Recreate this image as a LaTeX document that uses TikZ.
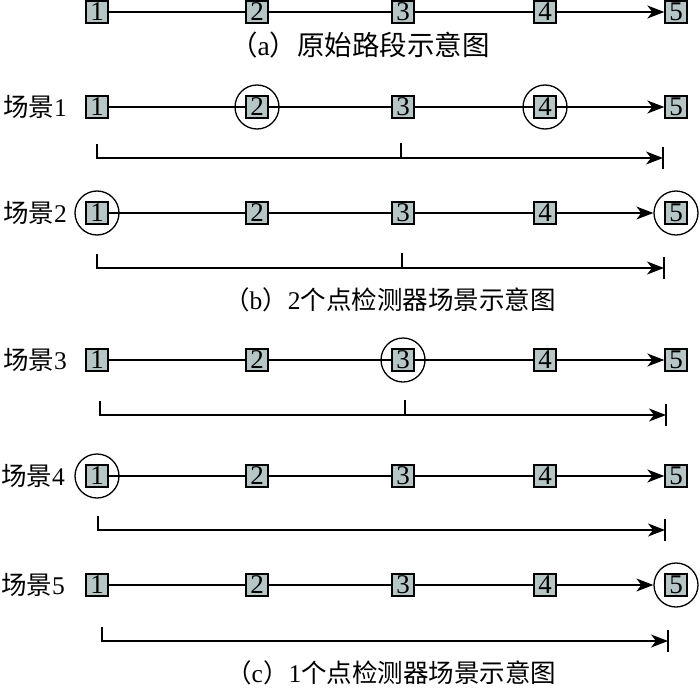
\documentclass[tikz,border=0pt]{standalone}
\usepackage{fontspec}
\setmainfont{Liberation Serif}
\newfontfamily\cjk{Noto Sans CJK SC}
\usetikzlibrary{arrows.meta}
\definecolor{boxfill}{HTML}{B6C6C6}
\tikzset{
  bx/.style={draw=black, line width=1.4pt, fill=boxfill, minimum size=22pt, inner sep=0pt,
    font=\fontsize{27}{27}\selectfont},
  ring/.style={draw=black, line width=1.3pt, circle, minimum size=44pt, inner sep=0pt},
  ln/.style={line width=1.3pt},
  arrowtip/.style={-{Stealth[length=17pt,width=13pt,inset=5pt]}},
  lbl/.style={font=\fontsize{25.5}{30}\selectfont, inner sep=0pt},
  captxt/.style={font=\fontsize{25.5}{30}\selectfont, inner sep=0pt, anchor=west},
}
\newcommand\roadrow[2]{%
  \node[bx] (#1a) at (97,-#2) {1};
  \node[bx] (#1b) at (257,-#2) {2};
  \node[bx] (#1c) at (403,-#2) {3};
  \node[bx] (#1d) at (545,-#2) {4};
  \node[bx] (#1e) at (676,-#2) {5};
}
\begin{document}
\begin{tikzpicture}[x=1pt,y=1pt]
\useasboundingbox (0,0) rectangle (700,-690);

% (a)
\roadrow{a}{12}
\draw[ln] (aa) -- (ab) -- (ac) -- (ad);
\draw[ln,arrowtip] (ad) -- (ae);
\node[captxt, font=\fontsize{27.5}{30}\selectfont] (capa) at (230,-45) {{\cjk （}a{\cjk ）原始路段示意图}};

% scene 1
\node[lbl, anchor=east] (l1) at (67,-107) {{\cjk 场景}1};
\roadrow{p}{107}
\node[ring] (pbr) at (pb) {};
\node[ring] (pdr) at (pd) {};
\draw[ln] (pa) -- (pb) -- (pc) -- (pd);
\draw[ln,arrowtip] (pd) -- (pe);
\coordinate (p1t) at (97,-144);
\coordinate (p1b) at (97,-158);
\coordinate (p1m) at (401,-158);
\coordinate (p1mt) at (401,-143);
\coordinate (p1r) at (663,-158);
\coordinate (p1rt) at (663,-147);
\coordinate (p1rb) at (663,-169);
\draw[ln,arrowtip] (p1t) -- (p1b) -- (p1r);
\draw[ln] (p1m) -- (p1mt);
\draw[ln] (p1rt) -- (p1rb);

% scene 2
\node[lbl, anchor=east] (l2) at (67,-213) {{\cjk 场景}2};
\roadrow{q}{213}
\node[ring] (qar) at (qa) {};
\node[ring] (qer) at (qe) {};
\draw[ln] (qa) -- (qb) -- (qc) -- (qd);
\draw[ln,arrowtip] (qd) -- (qer);
\coordinate (q1t) at (97,-254);
\coordinate (q1b) at (97,-268);
\coordinate (q1m) at (402,-268);
\coordinate (q1mt) at (402,-253);
\coordinate (q1r) at (664,-268);
\coordinate (q1rt) at (664,-257);
\coordinate (q1rb) at (664,-279);
\draw[ln,arrowtip] (q1t) -- (q1b) -- (q1r);
\draw[ln] (q1m) -- (q1mt);
\draw[ln] (q1rt) -- (q1rb);
\node[captxt] (capb) at (224,-300) {{\cjk （}b{\cjk ）}2{\cjk 个点检测器场景示意图}};

% scene 3
\node[lbl, anchor=east] (l3) at (67,-360) {{\cjk 场景}3};
\roadrow{r}{360}
\node[ring] (rcr) at (rc) {};
\draw[ln] (ra) -- (rb) -- (rc) -- (rd);
\draw[ln,arrowtip] (rd) -- (re);
\coordinate (r1t) at (100,-401);
\coordinate (r1b) at (100,-415);
\coordinate (r1m) at (405,-415);
\coordinate (r1mt) at (405,-400);
\coordinate (r1r) at (666,-415);
\coordinate (r1rt) at (666,-404);
\coordinate (r1rb) at (666,-426);
\draw[ln,arrowtip] (r1t) -- (r1b) -- (r1r);
\draw[ln] (r1m) -- (r1mt);
\draw[ln] (r1rt) -- (r1rb);

% scene 4
\node[lbl, anchor=east] (l4) at (65,-476) {{\cjk 场景}4};
\roadrow{s}{476}
\node[ring] (sar) at (sa) {};
\draw[ln] (sa) -- (sb) -- (sc) -- (sd);
\draw[ln,arrowtip] (sd) -- (se);
\coordinate (s1t) at (98,-516);
\coordinate (s1b) at (98,-530);
\coordinate (s1r) at (665,-530);
\coordinate (s1rt) at (665,-519);
\coordinate (s1rb) at (665,-541);
\draw[ln,arrowtip] (s1t) -- (s1b) -- (s1r);
\draw[ln] (s1rt) -- (s1rb);

% scene 5
\node[lbl, anchor=east] (l5) at (65,-585) {{\cjk 场景}5};
\roadrow{t}{585}
\node[ring] (ter) at (te) {};
\draw[ln] (ta) -- (tb) -- (tc) -- (td);
\draw[ln,arrowtip] (td) -- (ter);
\coordinate (t1t) at (102,-627);
\coordinate (t1b) at (102,-641);
\coordinate (t1r) at (668,-641);
\coordinate (t1rt) at (668,-630);
\coordinate (t1rb) at (668,-652);
\draw[ln,arrowtip] (t1t) -- (t1b) -- (t1r);
\draw[ln] (t1rt) -- (t1rb);
\node[captxt] (capc) at (226,-673) {{\cjk （}c{\cjk ）}1{\cjk 个点检测器场景示意图}};
\end{tikzpicture}
\end{document}
